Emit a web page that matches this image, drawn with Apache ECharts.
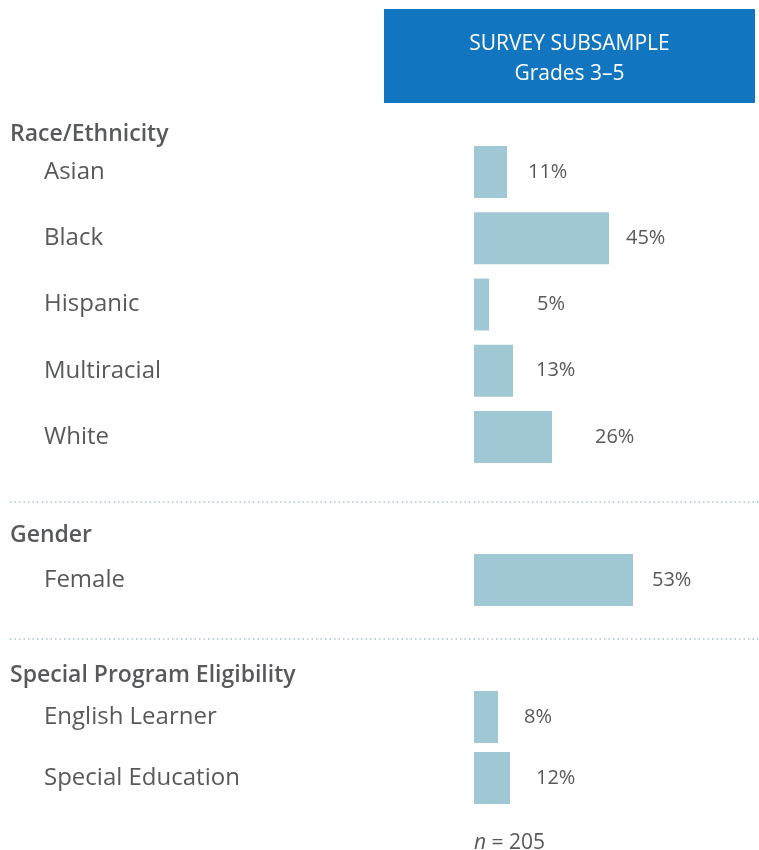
<!DOCTYPE html>
<html>
<head>
<meta charset="utf-8">
<script src="https://cdn.jsdelivr.net/npm/echarts@6/dist/echarts.min.js"></script>
<style>
  html, body { margin: 0; padding: 0; background: #fff; }
  #chart { width: 759px; height: 850px; }
</style>
</head>
<body>
<div id="chart"></div>
<script>
// data
const sectionTitles = ['Race/Ethnicity', 'Gender', 'Special Program Eligibility'];
const raceCats = ['Asian', 'Black', 'Hispanic', 'Multiracial', 'White'];
const raceVals = [11, 45, 5, 13, 26];
const genderCats = ['Female'];
const genderVals = [53];
const programCats = ['English Learner', 'Special Education'];
const programVals = [8, 12];
const headerLines = ['SURVEY SUBSAMPLE', 'Grades 3–5'];
const sampleSize = 205;

// label gaps (style only, px from bar end)
const raceGap = [21, 17, 48, 23, 43];
const genderGap = [19];
const programGap = [26, 26];

const FONT = '"Open Sans", sans-serif';
const TEXT = '#58595b';
const BAR = '#a0c8d4';
const BLUE = '#1275bf';
const DOTS = '#9fc6d2';

const chart = echarts.init(document.getElementById('chart'));

// grids: race, gender, program
const grids = [
    { left: 474, width: 285, top: 139, height: 331 },
    { left: 474, width: 285, top: 547, height: 66 },
    { left: 474, width: 285, top: 686.5, height: 122 }
];
const cats = [raceCats, genderCats, programCats];
const vals = [raceVals, genderVals, programVals];
const gaps = [raceGap, genderGap, programGap];

const xAxis = grids.map((g, i) => ({
    type: 'value', gridIndex: i, min: 0, max: 95, show: false
}));
const yAxis = grids.map((g, i) => ({
    type: 'category', gridIndex: i, inverse: true, data: cats[i],
    axisLine: { show: false }, axisTick: { show: false }, splitLine: { show: false },
    axisLabel: {
        margin: 430, align: 'left', color: TEXT, fontSize: 24, fontFamily: FONT,
        padding: [8, 0, 0, 0]
    }
}));
const series = grids.map((g, i) => ({
    type: 'bar', xAxisIndex: i, yAxisIndex: i, barWidth: 52,
    itemStyle: { color: BAR },
    silent: true,
    data: vals[i].map((v, j) => ({
        value: v,
        label: { distance: gaps[i][j] }
    })),
    label: {
        show: true, position: 'right', formatter: '{c}%',
        color: TEXT, fontSize: 20, fontFamily: FONT
    }
}));

const headerY = [134, 535, 675];
const graphic = [
    { type: 'rect', shape: { x: 384, y: 9, width: 371, height: 94 }, style: { fill: BLUE } },
    { type: 'text', x: 569.5, y: 44, style: { text: headerLines[0], fill: '#fff', font: '21px ' + FONT, textAlign: 'center', textVerticalAlign: 'middle' } },
    { type: 'text', x: 569.5, y: 74, style: { text: headerLines[1], fill: '#fff', font: '21px ' + FONT, textAlign: 'center', textVerticalAlign: 'middle' } },
    { type: 'line', shape: { x1: 10, y1: 502, x2: 759, y2: 502 }, style: { stroke: DOTS, lineWidth: 1.5, lineDash: [1.5, 3] } },
    { type: 'line', shape: { x1: 10, y1: 639, x2: 759, y2: 639 }, style: { stroke: DOTS, lineWidth: 1.5, lineDash: [1.5, 3] } },
    {
        type: 'text', x: 474, y: 843,
        style: {
            text: '{i|n} = ' + sampleSize, fill: TEXT, font: '21px ' + FONT, textVerticalAlign: 'middle',
            rich: { i: { fontStyle: 'italic', fontSize: 21, fontFamily: FONT, fill: TEXT } }
        }
    }
];
sectionTitles.forEach((t, i) => {
    graphic.push({
        type: 'text', x: 10, y: headerY[i],
        style: { text: t, fill: TEXT, font: '600 23px ' + FONT, textVerticalAlign: 'middle' }
    });
});

chart.setOption({
    animation: false,
    grid: grids,
    xAxis: xAxis,
    yAxis: yAxis,
    series: series,
    graphic: graphic
});
</script>
</body>
</html>
